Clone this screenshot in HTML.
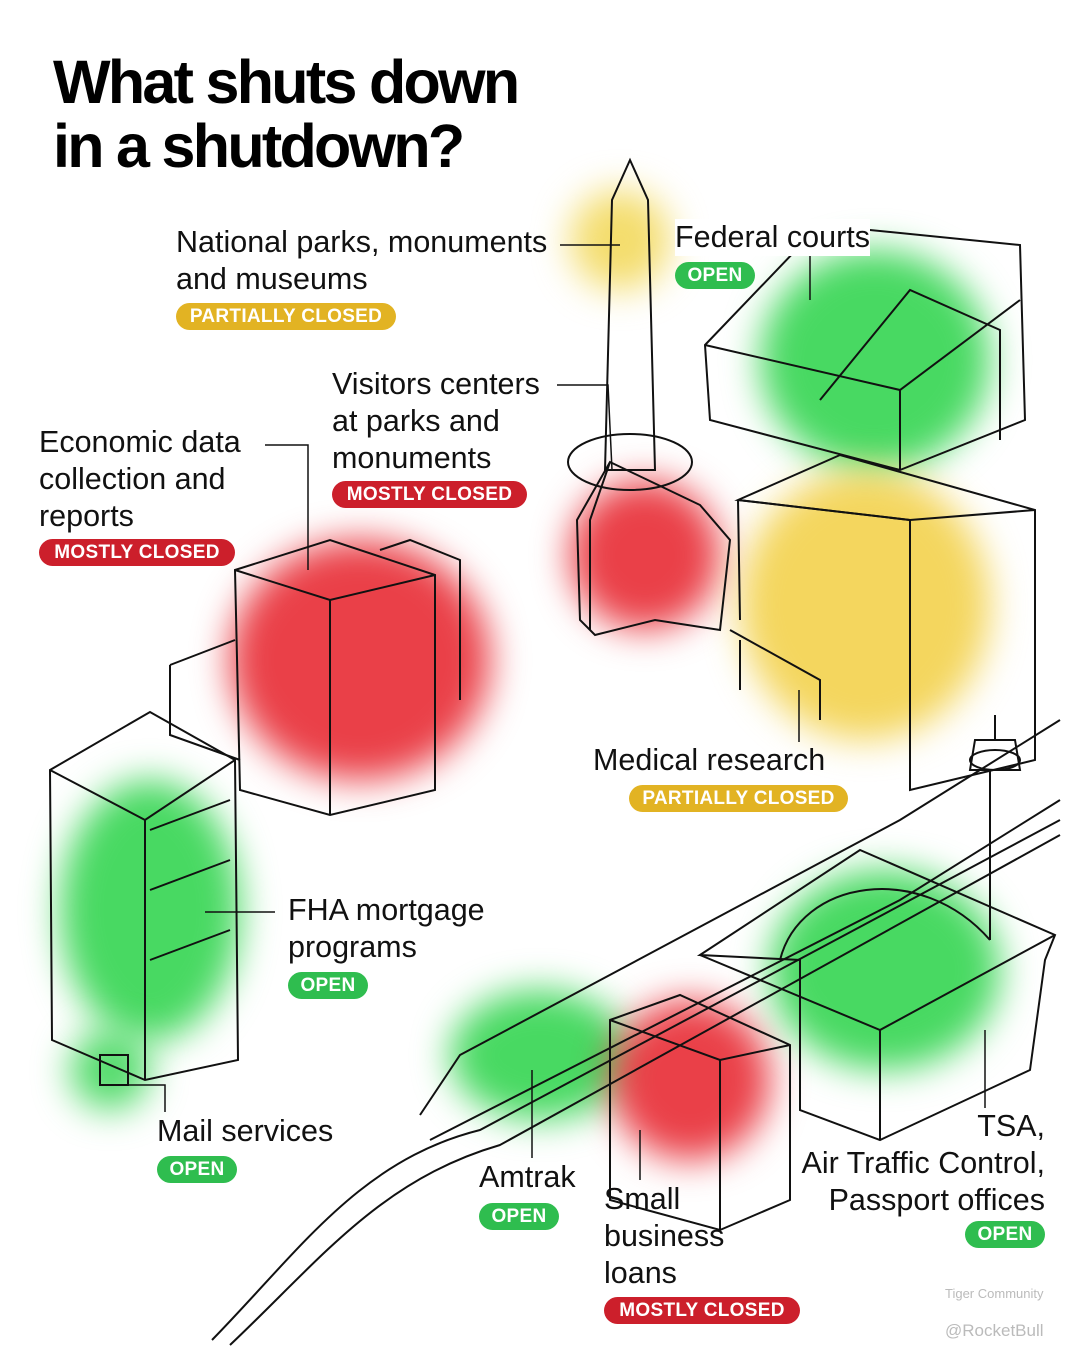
<!DOCTYPE html>
<html><head><meta charset="utf-8"><style>
body{margin:0;background:#fff;}
#c{position:relative;width:1077px;height:1348px;overflow:hidden;background:#fff;font-family:"Liberation Sans",sans-serif;}
.t{position:absolute;font-size:30.5px;line-height:37px;color:#111;white-space:nowrap;}
.b{position:absolute;height:27px;border-radius:14px;color:#fff;font-weight:bold;font-size:19px;line-height:27px;text-align:center;letter-spacing:0.3px;}
.y{background:#e2b323}.g{background:#2fbd4f}.r{background:#cc1f2b}
.blob{position:absolute;border-radius:50%;filter:blur(18px);}
h1{position:absolute;left:53px;top:50px;margin:0;font-size:61px;line-height:64px;font-weight:bold;letter-spacing:-2.7px;color:#000;}
svg{position:absolute;left:0;top:0;}
</style></head><body><div id="c">
<div class="blob" style="left:570px;top:190px;width:100px;height:100px;background:rgba(240,210,60,.75)"></div>
<div class="blob" style="left:760px;top:250px;width:230px;height:220px;background:rgba(40,210,70,.85)"></div>
<div class="blob" style="left:570px;top:480px;width:150px;height:150px;background:rgba(230,30,40,.85)"></div>
<div class="blob" style="left:740px;top:470px;width:250px;height:270px;background:rgba(240,200,40,.75)"></div>
<div class="blob" style="left:230px;top:540px;width:260px;height:240px;background:rgba(230,30,40,.85)"></div>
<div class="blob" style="left:60px;top:780px;width:180px;height:260px;background:rgba(40,210,70,.85)"></div>
<div class="blob" style="left:70px;top:1030px;width:80px;height:80px;background:rgba(40,210,70,.8)"></div>
<div class="blob" style="left:450px;top:990px;width:180px;height:130px;background:rgba(40,210,70,.85)"></div>
<div class="blob" style="left:610px;top:1000px;width:160px;height:160px;background:rgba(230,30,40,.85)"></div>
<div class="blob" style="left:770px;top:870px;width:230px;height:200px;background:rgba(40,210,70,.85)"></div>
<svg width="1077" height="1348" fill="none" stroke="#111" stroke-width="2">
<path d="M630 160 L612 200 L605 470 L655 470 L648 200 Z"/>
<ellipse cx="630" cy="462" rx="62" ry="28"/>
<path d="M705 345 L820 225 L1020 245 L1025 420 L900 470 L710 420 Z"/>
<path d="M705 345 L900 390 L1020 300"/>
<path d="M900 390 L900 470"/>
<path d="M820 400 L910 290 L1000 330 L1000 440"/>
<path d="M577 520 L610 462 L700 505 L730 540 L720 630 L655 620 L595 635 L580 620 Z"/>
<path d="M610 462 L590 520 L590 630"/>
<path d="M738 500 L840 455 L1035 510 L1035 760 L910 790 L910 520 Z"/>
<path d="M738 500 L910 520 L1035 510"/>
<path d="M738 500 L740 620 M730 630 L820 680 L820 720 M740 640 L740 690"/>
<path d="M235 570 L330 540 L435 575 L435 790 L330 815 L240 790 Z"/>
<path d="M235 570 L330 600 L435 575 M330 600 L330 815"/>
<path d="M170 665 L235 640 M170 665 L170 735 L240 760 M380 550 L410 540 L460 560 L460 700"/>
<path d="M50 770 L150 712 L235 760 L238 1060 L145 1080 L52 1040 Z"/>
<path d="M50 770 L145 820 L235 760 M145 820 L145 1080"/>
<path d="M150 830 L230 800 M150 890 L230 860 M150 960 L230 930"/>
<path d="M100 1055 L128 1055 L128 1085 L100 1085 Z"/>
<path d="M420 1115 L460 1055 L900 820 L1060 720"/>
<path d="M430 1140 L900 900 L1060 800"/>
<path d="M212 1340 C300 1250 360 1160 480 1130 L1060 820"/>
<path d="M230 1345 C320 1260 380 1180 500 1145 L1060 835"/>
<path d="M700 955 L860 850 L1055 935 L1045 960 L1030 1070 L880 1140 L800 1110 L800 960 Z"/>
<path d="M700 955 L880 1030 L1055 935 M880 1030 L880 1140"/>
<path d="M780 960 C800 880 920 860 990 940"/>
<path d="M990 940 L990 770"/>
<ellipse cx="995" cy="760" rx="25" ry="10"/><path d="M975 740 L1015 740 L1020 770 L970 770 Z M995 715 L995 740"/>
<path d="M610 1020 L680 995 L790 1045 L790 1200 L720 1230 L610 1200 Z"/>
<path d="M610 1020 L720 1060 L790 1045 M720 1060 L720 1230"/>
<g stroke-width="1.5">
<path d="M560 245 L620 245"/>
<path d="M810 254 L810 300"/>
<path d="M557 385 L608 385 L612 470"/>
<path d="M265 445 L308 445 L308 570"/>
<path d="M799 690 L799 742"/>
<path d="M205 912 L275 912"/>
<path d="M165 1112 L165 1085 L118 1085"/>
<path d="M532 1070 L532 1158"/>
<path d="M640 1130 L640 1180"/>
<path d="M985 1030 L985 1108"/>
</g>
</svg>
<h1>What shuts down<br>in a shutdown?</h1>
<div class="t" style="left:176px;top:224px">National parks, monuments<br>and museums</div>
<div class="b y" style="left:176px;top:303px;width:220px">PARTIALLY CLOSED</div>
<div class="t" style="left:675px;top:219px;background:#fff">Federal courts</div>
<div class="b g" style="left:675px;top:262px;width:80px">OPEN</div>
<div class="t" style="left:332px;top:366px">Visitors centers<br>at parks and<br>monuments</div>
<div class="b r" style="left:332px;top:481px;width:195px">MOSTLY CLOSED</div>
<div class="t" style="left:39px;top:424px">Economic data<br>collection and<br>reports</div>
<div class="b r" style="left:39px;top:539px;width:196px">MOSTLY CLOSED</div>
<div class="t" style="left:593px;top:742px">Medical research</div>
<div class="b y" style="left:629px;top:785px;width:219px">PARTIALLY CLOSED</div>
<div class="t" style="left:288px;top:892px">FHA mortgage<br>programs</div>
<div class="b g" style="left:288px;top:972px;width:80px">OPEN</div>
<div class="t" style="left:157px;top:1113px">Mail services</div>
<div class="b g" style="left:157px;top:1156px;width:80px">OPEN</div>
<div class="t" style="left:479px;top:1159px">Amtrak</div>
<div class="b g" style="left:479px;top:1203px;width:80px">OPEN</div>
<div class="t" style="left:604px;top:1181px">Small<br>business<br>loans</div>
<div class="b r" style="left:604px;top:1297px;width:196px">MOSTLY CLOSED</div>
<div class="t" style="right:32px;top:1108px;text-align:right">TSA,<br>Air Traffic Control,<br>Passport offices</div>
<div class="b g" style="left:965px;top:1221px;width:80px">OPEN</div>
<div class="t" style="left:945px;top:1312px;font-size:17px;color:#bbb">@RocketBull</div>
<div class="t" style="left:945px;top:1275px;font-size:13px;color:#bbb">Tiger Community</div>
</div></body></html>
